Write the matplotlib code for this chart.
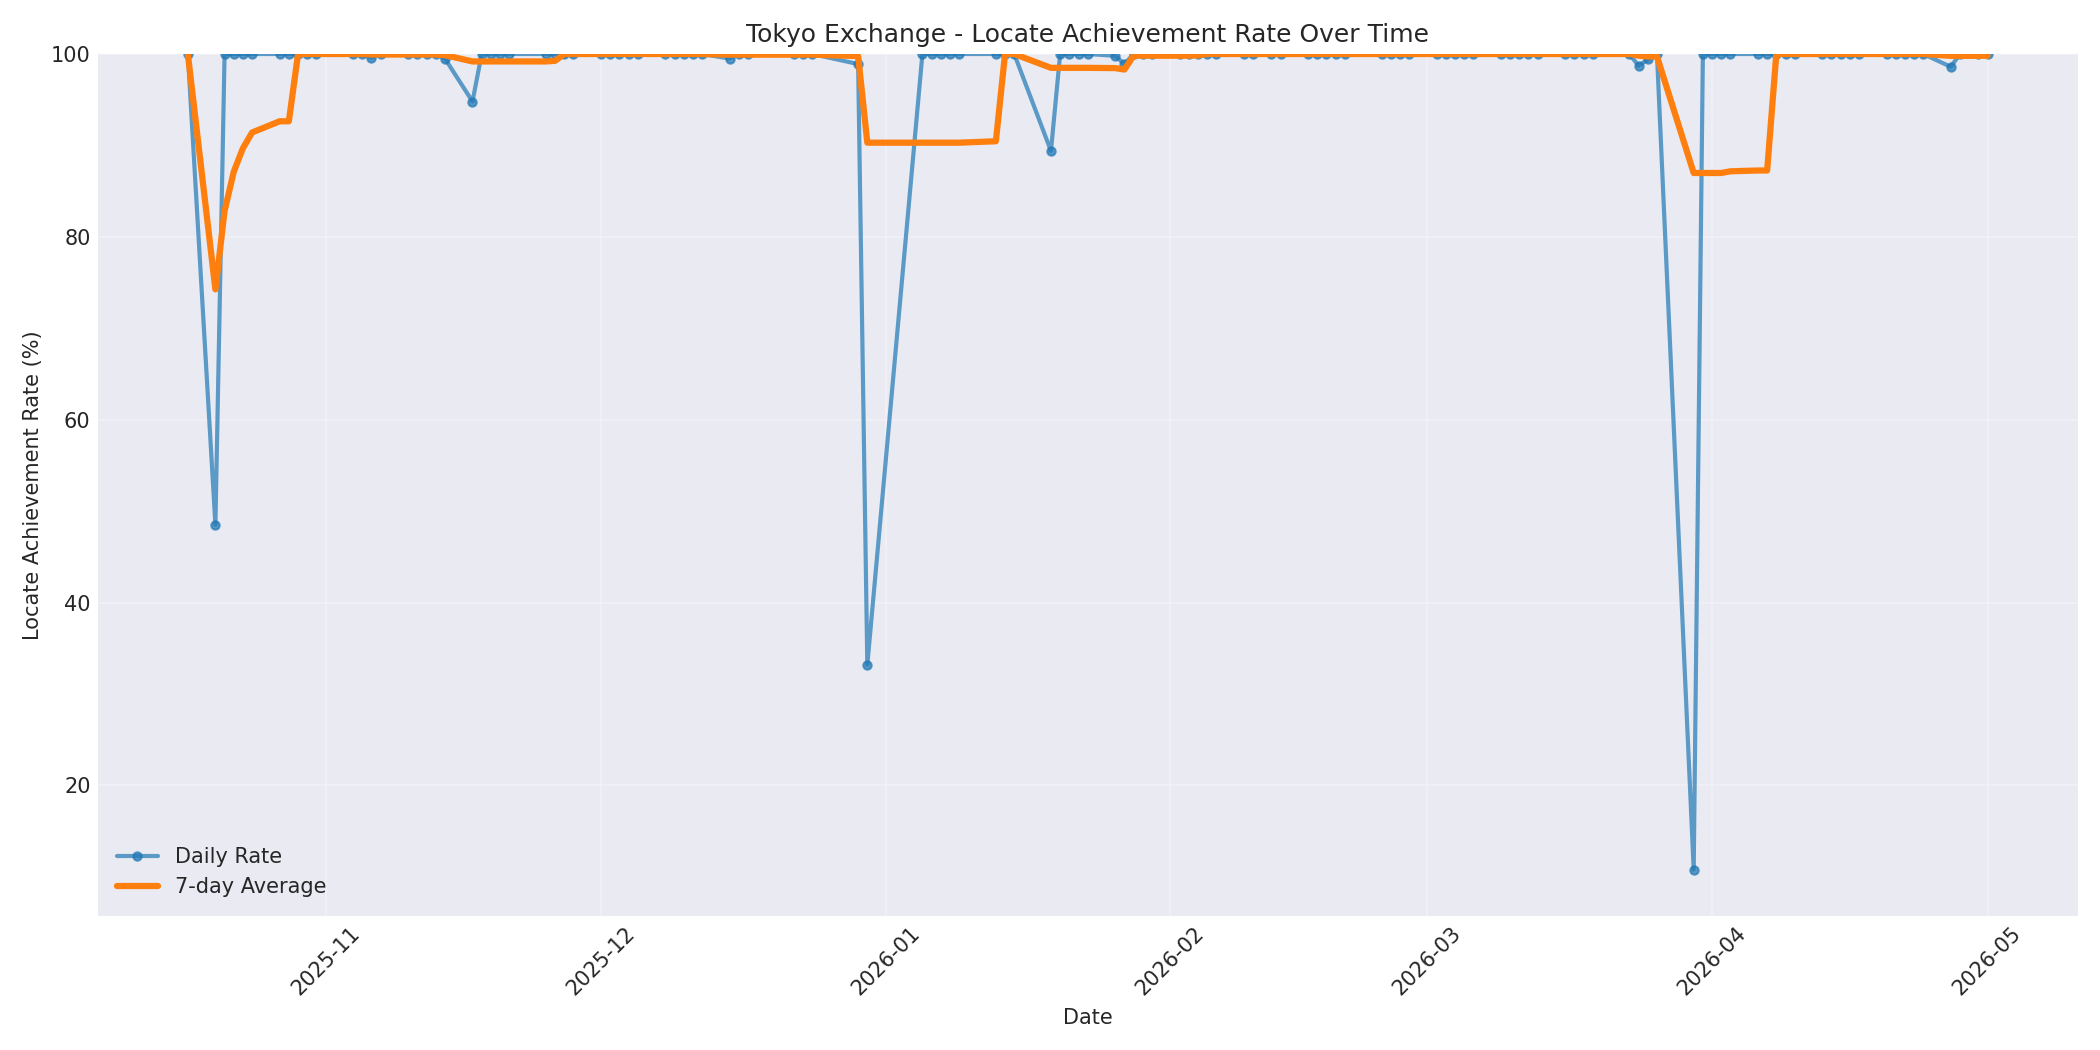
import matplotlib
matplotlib.use('Agg')
import matplotlib.pyplot as plt
import matplotlib.dates as mdates
import pandas as pd

plt.style.use('seaborn-v0_8-darkgrid')
plt.rcParams['font.family'] = 'DejaVu Sans'

# Trading days with data (Tokyo calendar, gaps for holidays / missing days)
DATES = (
    ['2025-10-17', '2025-10-20', '2025-10-21', '2025-10-22', '2025-10-23', '2025-10-24',
     '2025-10-27', '2025-10-28', '2025-10-29', '2025-10-30', '2025-10-31',
     '2025-11-04', '2025-11-05', '2025-11-06', '2025-11-07',
     '2025-11-10', '2025-11-11', '2025-11-12', '2025-11-13', '2025-11-14',
     '2025-11-17', '2025-11-18', '2025-11-19', '2025-11-20', '2025-11-21',
     '2025-11-25', '2025-11-26', '2025-11-27', '2025-11-28',
     '2025-12-01', '2025-12-02', '2025-12-03', '2025-12-04', '2025-12-05',
     '2025-12-08', '2025-12-09', '2025-12-10', '2025-12-11', '2025-12-12',
     '2025-12-15', '2025-12-16', '2025-12-17',
     '2025-12-22', '2025-12-23', '2025-12-24', '2025-12-29', '2025-12-30',
     '2026-01-05', '2026-01-06', '2026-01-07', '2026-01-08', '2026-01-09',
     '2026-01-13', '2026-01-14', '2026-01-15', '2026-01-19',
     '2026-01-20', '2026-01-21', '2026-01-22', '2026-01-23', '2026-01-26', '2026-01-27',
     '2026-01-28', '2026-01-29', '2026-01-30',
     '2026-02-02', '2026-02-03', '2026-02-04', '2026-02-05', '2026-02-06',
     '2026-02-09', '2026-02-10', '2026-02-12', '2026-02-13',
     '2026-02-16', '2026-02-17', '2026-02-18', '2026-02-19', '2026-02-20',
     '2026-02-24', '2026-02-25', '2026-02-26', '2026-02-27',
     '2026-03-02', '2026-03-03', '2026-03-04', '2026-03-05', '2026-03-06',
     '2026-03-09', '2026-03-10', '2026-03-11', '2026-03-12', '2026-03-13',
     '2026-03-16', '2026-03-17', '2026-03-18', '2026-03-19',
     '2026-03-23', '2026-03-24', '2026-03-25', '2026-03-26', '2026-03-30', '2026-03-31',
     '2026-04-01', '2026-04-02', '2026-04-03',
     '2026-04-06', '2026-04-07', '2026-04-08', '2026-04-09', '2026-04-10',
     '2026-04-13', '2026-04-14', '2026-04-15', '2026-04-16', '2026-04-17',
     '2026-04-20', '2026-04-21', '2026-04-22', '2026-04-23', '2026-04-24',
     '2026-04-27', '2026-04-28', '2026-04-30', '2026-05-01']
)

# Days where the rate was below 100%
LOW_RATES = {
    '2025-10-20': 48.5, '2025-11-06': 99.6, '2025-11-14': 99.5, '2025-11-17': 94.8,
    '2025-12-15': 99.5, '2025-12-29': 98.9, '2025-12-30': 33.2,
    '2026-01-19': 89.4, '2026-01-26': 99.8, '2026-01-27': 98.9,
    '2026-03-24': 98.7, '2026-03-25': 99.4, '2026-03-30': 10.8,
    '2026-04-27': 98.6,
}

rates = [LOW_RATES.get(d, 100.0) for d in DATES]
df = pd.DataFrame({'date': pd.to_datetime(DATES), 'rate': rates})
df['avg7'] = df['rate'].rolling(7, min_periods=1).mean()

fig, ax = plt.subplots(figsize=(14, 7), dpi=150)
ax.plot(df['date'], df['rate'], marker='o', markersize=4, linewidth=2,
        alpha=0.7, color='#1f77b4', label='Daily Rate')
ax.plot(df['date'], df['avg7'], linewidth=3, color='#ff7f0e', label='7-day Average')

ax.set_title('Tokyo Exchange - Locate Achievement Rate Over Time', fontsize=12)
ax.set_xlabel('Date')
ax.set_ylabel('Locate Achievement Rate (%)')
ax.set_ylim(5.7, 100)
ax.grid(True, alpha=0.3)
ax.xaxis.set_major_locator(mdates.MonthLocator())
ax.xaxis.set_major_formatter(mdates.DateFormatter('%Y-%m'))
plt.setp(ax.get_xticklabels(), rotation=45)
ax.legend(loc='lower left')

plt.tight_layout()
plt.savefig('out.png', dpi=150)
